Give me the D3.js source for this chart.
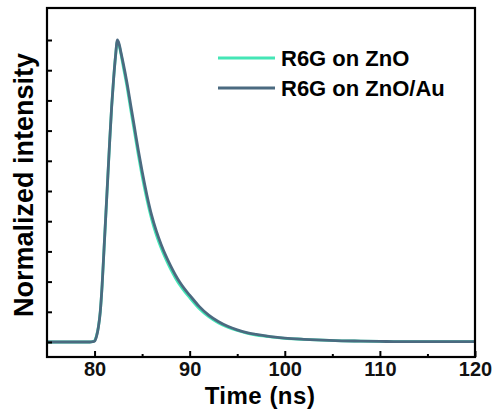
<!DOCTYPE html>
<html>
<head>
<meta charset="utf-8">
<script src="https://cdn.jsdelivr.net/npm/d3@7"></script>
<style>
    body { margin: 0; background: #fff; }
    svg { display: block; font-family: Arial, "Liberation Sans", sans-serif; }
    .tick text { font-weight: bold; fill: #111; }
</style>
</head>
<body>
<svg width="494" height="412"></svg>
<script>
// time axis (ns) shared by both decays
var times = [75, 79.5, 79.8, 80.0, 80.2, 80.4, 80.6, 80.8, 81.0, 81.2, 81.4, 81.6, 81.8,
    82.0, 82.2, 82.4, 82.6, 82.8, 83.0, 83.4, 83.8, 84.2, 84.6, 85.0, 85.5, 86, 86.5,
    87, 87.5, 88, 88.5, 89, 89.5, 90, 91, 92, 93, 94, 95, 96, 97, 98, 99, 100, 102,
    104, 106, 108, 110, 112, 115, 120];

// R6G on ZnO (light line)
var znoValues = [0, 0, 0.001, 0.004, 0.02, 0.05, 0.10, 0.19, 0.31, 0.43, 0.55, 0.67, 0.78,
    0.87, 0.945, 0.995, 0.98, 0.95, 0.915, 0.848, 0.77, 0.695, 0.62, 0.55, 0.473, 0.407, 0.354,
    0.311, 0.274, 0.241, 0.212, 0.187, 0.166, 0.147, 0.111, 0.084, 0.064, 0.049, 0.038,
    0.029, 0.023, 0.019, 0.015, 0.012, 0.009, 0.006, 0.004, 0.003, 0.002, 0.001, 0.001, 0.001];

// R6G on ZnO/Au (dark line)
var znoAuValues = [0, 0, 0.001, 0.003, 0.018, 0.048, 0.10, 0.19, 0.31, 0.43, 0.55, 0.67, 0.78,
    0.87, 0.945, 1.0, 0.985, 0.955, 0.925, 0.86, 0.785, 0.71, 0.635, 0.565, 0.487, 0.42, 0.367,
    0.323, 0.285, 0.252, 0.222, 0.196, 0.174, 0.155, 0.118, 0.089, 0.068, 0.052, 0.040,
    0.031, 0.025, 0.020, 0.016, 0.013, 0.009, 0.006, 0.004, 0.003, 0.002, 0.001, 0.001, 0.001];

var xMajor = [80, 90, 100, 110, 120];
var xMinor = [85, 95, 105, 115];
var yTicks = [0, 0.1, 0.2, 0.3, 0.4, 0.5, 0.6, 0.7, 0.8, 0.9, 1.0];

var seriesNames = ["R6G on ZnO", "R6G on ZnO/Au"];
var seriesColors = ["#44e6b6", "#4b6a80"];

var svg = d3.select("svg"),
    margin = { top: 8, right: 19, bottom: 55, left: 47 },
    width = +svg.attr("width") - margin.left - margin.right,
    height = +svg.attr("height") - margin.top - margin.bottom;

var g = svg.append("g")
    .attr("transform", "translate(" + margin.left + "," + margin.top + ")");

// scales, x 75-120 ns, y slightly padded around 0..1
var xScale = d3.scaleLinear().domain([75, 120]).range([0, width]);
var yScale = d3.scaleLinear().domain([-0.0497, 1.106]).range([height, 0]);

// curves
var line = d3.line()
    .x(function(d) { return xScale(d.t); })
    .y(function(d) { return yScale(d.v); })
    .curve(d3.curveMonotoneX);

var series = [znoValues, znoAuValues].map(function(vals) {
    return times.map(function(t, i) { return { t: t, v: vals[i] }; });
});

g.selectAll(".curve")
    .data(series)
    .enter().append("path")
    .attr("class", "curve")
    .attr("fill", "none")
    .attr("stroke", function(d, i) { return seriesColors[i]; })
    .attr("stroke-width", 2.8)
    .attr("stroke-linejoin", "round")
    .attr("d", line);

// x axis, major ticks with labels, minor without; all pointing in
var xAxis = g.append("g")
    .attr("transform", "translate(0," + height + ")")
    .call(d3.axisBottom(xScale).tickValues(xMajor).tickSizeInner(-6).tickSizeOuter(0).tickPadding(5));
xAxis.selectAll("text").style("font-size", "20px");

var xMinorAxis = g.append("g")
    .attr("transform", "translate(0," + height + ")")
    .call(d3.axisBottom(xScale).tickValues(xMinor).tickSizeInner(-3).tickSizeOuter(0).tickFormat(""));

// y axis has ticks only
var yAxis = g.append("g")
    .call(d3.axisLeft(yScale).tickValues(yTicks).tickSizeInner(-5).tickSizeOuter(0).tickFormat(""));

g.selectAll(".domain").remove();
g.selectAll(".tick line").attr("stroke", "#000").attr("stroke-width", 2);

// frame
g.append("rect")
    .attr("width", width)
    .attr("height", height)
    .attr("fill", "none")
    .attr("stroke", "#000")
    .attr("stroke-width", 2.2);

// axis titles
svg.append("text")
    .attr("x", margin.left + 213)
    .attr("y", 404)
    .attr("text-anchor", "middle")
    .style("font-size", "24px")
    .style("font-weight", "bold")
    .style("letter-spacing", "0.5px")
    .text("Time (ns)");

svg.append("text")
    .attr("transform", "translate(33,185) rotate(-90)")
    .attr("text-anchor", "middle")
    .style("font-size", "27px")
    .style("font-weight", "bold")
    .text("Normalized intensity");

// legend
var legend = svg.append("g")
    .selectAll("g")
    .data(seriesNames)
    .enter().append("g")
    .attr("transform", function(d, i) { return "translate(218," + (58 + i * 30) + ")"; });

legend.append("line")
    .attr("x1", 0).attr("x2", 57)
    .attr("stroke", function(d, i) { return seriesColors[i]; })
    .attr("stroke-width", 3);

legend.append("text")
    .attr("x", 63)
    .attr("y", 8)
    .style("font-size", "22px")
    .style("font-weight", "bold")
    .text(function(d) { return d; });
</script>
</body>
</html>
